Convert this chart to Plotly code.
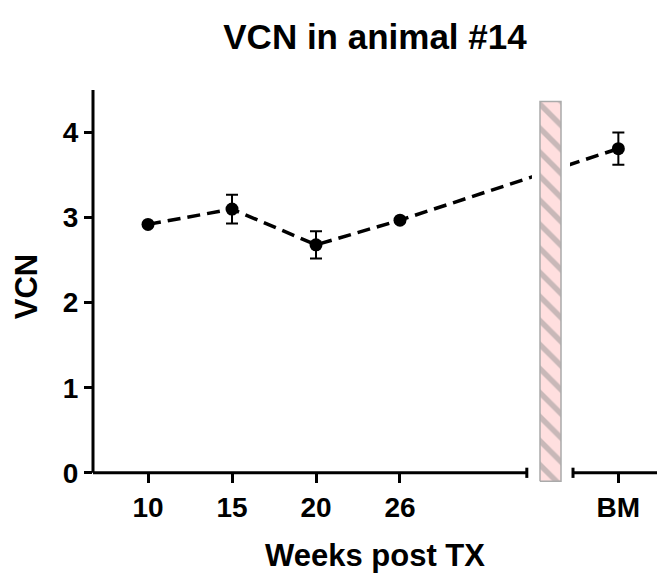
import plotly.graph_objects as go

# ---- data ----
categories = ["10", "15", "20", "26", "BM"]
cat_pos = [0, 1, 2, 3, 5.6]          # horizontal slot of each category (BM after the axis break)
vcn = [2.92, 3.10, 2.68, 2.97, 3.81]
vcn_err = [0.0, 0.17, 0.16, 0.0, 0.19]
y_ticks = [0, 1, 2, 3, 4]

# ---- layout constants ----
X_MIN, X_MAX = -0.655, 6.06
Y_MIN, Y_MAX = -0.12, 4.5
AXIS_TOP = 4.5
SEG1_END, SEG2_START = 4.51, 5.06        # x-axis break
COVER = (4.571, 5.024)                   # white gap in the line
BAR = (4.667, 4.917, -0.1, 4.365)        # hatched break marker
FONT = "Arial, Liberation Sans, sans-serif"

fig = go.Figure()

fig.add_trace(go.Scatter(
    x=cat_pos, y=vcn, mode="lines+markers",
    line=dict(color="black", width=3.5, dash="13px,7px"),
    marker=dict(color="black", size=13),
    error_y=dict(type="data", array=vcn_err, color="black", thickness=2, width=6),
    showlegend=False, hoverinfo="skip",
))

# white gap behind the break marker
fig.add_trace(go.Scatter(
    x=[COVER[0], COVER[1], COVER[1], COVER[0], COVER[0]],
    y=[Y_MIN, Y_MIN, Y_MAX, Y_MAX, Y_MIN],
    mode="lines", fill="toself", fillcolor="white",
    line=dict(width=0, color="white"), showlegend=False, hoverinfo="skip",
))

# hatched break marker
fig.add_trace(go.Scatter(
    x=[BAR[0], BAR[1], BAR[1], BAR[0], BAR[0]],
    y=[BAR[2], BAR[2], BAR[3], BAR[3], BAR[2]],
    mode="lines", fill="toself", fillcolor="#ffdfdf",
    fillpattern=dict(shape="\\", bgcolor="#ffdfdf", fgcolor="#929292", size=17, solidity=0.32),
    line=dict(width=1.5, color="#aaaaaa"), showlegend=False, hoverinfo="skip",
))

shapes = []
axw = dict(color="black", width=3)
# y axis line
shapes.append(dict(type="line", xref="paper", yref="y", x0=0, x1=0, y0=0, y1=AXIS_TOP, line=axw))
# x axis segments with break caps
shapes.append(dict(type="line", xref="x", yref="y", x0=X_MIN, x1=SEG1_END, y0=0, y1=0, line=axw))
shapes.append(dict(type="line", xref="x", yref="y", x0=SEG1_END, x1=SEG1_END, y0=-0.06, y1=0.06, line=axw))
shapes.append(dict(type="line", xref="x", yref="y", x0=SEG2_START, x1=X_MAX, y0=0, y1=0, line=axw))
shapes.append(dict(type="line", xref="x", yref="y", x0=SEG2_START, x1=SEG2_START, y0=-0.06, y1=0.06, line=axw))

fig.update_layout(
    width=657, height=579,
    margin=dict(l=93, r=0, t=90, b=96),
    plot_bgcolor="white", paper_bgcolor="white",
    font=dict(family=FONT, color="black", size=28, weight="bold"),
    title=dict(text="VCN in animal #14", x=0.5, xref="paper", xanchor="center",
               y=1 - 37 / 579, yref="container", yanchor="middle",
               font=dict(size=35, family=FONT, weight="bold", color="black")),
    shapes=shapes,
    xaxis=dict(
        range=[X_MIN, X_MAX], showgrid=False, zeroline=False, showline=False,
        tickmode="array", tickvals=cat_pos, ticktext=categories,
        ticks="inside", ticklen=10, tickwidth=3, tickcolor="black",
        ticklabelstandoff=5,
        tickfont=dict(size=28, family=FONT, weight="bold"),
        title=dict(text="Weeks post TX", standoff=22,
                   font=dict(size=31, family=FONT, weight="bold")),
    ),
    yaxis=dict(
        range=[Y_MIN, Y_MAX], showgrid=False, zeroline=False, showline=False,
        tickmode="array", tickvals=y_ticks,
        ticks="outside", ticklen=8, tickwidth=3, tickcolor="black",
        tickfont=dict(size=28, family=FONT, weight="bold"),
        title=dict(text="VCN", standoff=15,
                   font=dict(size=31, family=FONT, weight="bold")),
    ),
)

fig.write_html("out.html")
